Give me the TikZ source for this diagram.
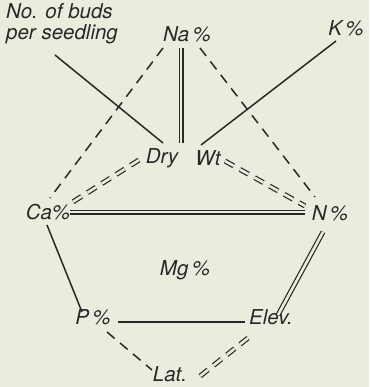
\documentclass[tikz,border=0pt]{standalone}
\usepackage{fontspec}
\setmainfont{TeX Gyre Heros}
\definecolor{paper}{RGB}{234,236,222}
\definecolor{ink}{RGB}{40,40,40}
\begin{document}
\begin{tikzpicture}[x=1pt,y=-1pt,
  lbl/.style={font=\itshape\fontsize{20.5}{23}\selectfont, inner sep=0pt, text=ink},
  ln/.style={line width=1.5pt, ink},
  dbl/.style={ln, double=paper, double distance=2.6pt, line width=1.2pt},
  dsh/.style={dash pattern=on 10pt off 7pt}]
\fill[paper] (0,0) rectangle (369,387);
\useasboundingbox (0,0) rectangle (369,387);
% labels
\node[lbl, align=left, anchor=north west] (buds) at (6,3) {No. of buds\\[-2pt]per seedling};
\node[lbl] (na) at (187,34) {Na\,\%};
\node[lbl] (k) at (346,28) {K\,\%};
\node[lbl] (dry) at (162,158) {Dry};
\node[lbl] (wt) at (208,158) {Wt};
\node[lbl] (ca) at (48,212) {Ca\%};
\node[lbl] (n) at (330,213) {N\,\%};
\node[lbl] (mg) at (185,270) {Mg\,\%};
\node[lbl] (p) at (93,317) {P\,\%};
\node[lbl] (elev) at (271,317) {Elev.};
\node[lbl] (lat) at (170,374) {Lat.};
% endpoints
\coordinate (budsE) at (55,55);
\coordinate (dryNW) at (163,143);
\coordinate (naSW) at (163,48);
\coordinate (caNE) at (50,198);
\coordinate (naS1) at (181,48);
\coordinate (dryN) at (181,143);
\coordinate (naSE) at (200,48);
\coordinate (nNW) at (315,197);
\coordinate (kSW) at (336,41);
\coordinate (wtN) at (201,145);
\coordinate (dryW) at (139,160);
\coordinate (caE1) at (68,205);
\coordinate (wtE) at (225,161);
\coordinate (nW1) at (305,206);
\coordinate (caE) at (70,212);
\coordinate (nW) at (305,212);
\coordinate (caS) at (47,225);
\coordinate (pN) at (82,312);
\coordinate (pE) at (118,322);
\coordinate (elevW) at (245,322);
\coordinate (pSE) at (107,332);
\coordinate (latNW) at (152,370);
\coordinate (elevSW) at (248,338);
\coordinate (latE) at (199,377);
\coordinate (nS) at (323,232);
\coordinate (elevN) at (278,315);
% connectors
\draw[ln] (budsE) -- (dryNW);
\draw[ln, dsh] (naSW) -- (caNE);
\draw[dbl] (naS1) -- (dryN);
\draw[ln, dsh] (naSE) -- (nNW);
\draw[ln] (kSW) -- (wtN);
\draw[dbl, dsh] (dryW) -- (caE1);
\draw[dbl, dsh] (wtE) -- (nW1);
\draw[dbl] (caE) -- (nW);
\draw[ln] (caS) -- (pN);
\draw[ln] (pE) -- (elevW);
\draw[ln, dsh] (pSE) -- (latNW);
\draw[dbl, dsh] (elevSW) -- (latE);
\draw[dbl] (nS) -- (elevN);
\end{tikzpicture}
\end{document}
